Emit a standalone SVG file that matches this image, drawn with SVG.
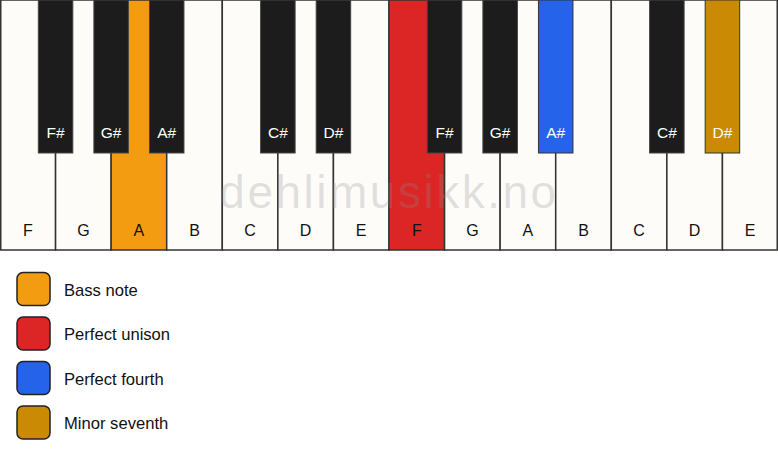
<svg xmlns="http://www.w3.org/2000/svg" width="778" height="461" viewBox="0 0 778 461">
<style>
.w{fill:#fdfcf9;stroke:#333;stroke-width:1.5}
.b{fill:#1c1c1c;stroke:#444;stroke-width:1}
.wl{font-family:"Liberation Sans",Arial,sans-serif;font-size:16px;fill:#111;text-anchor:middle}
.bl{font-family:"Liberation Sans",Arial,sans-serif;font-size:15.5px;fill:#fff;text-anchor:middle}
.lg{stroke:#222;stroke-width:1.5}
.lt{font-family:"Liberation Sans",Arial,sans-serif;font-size:16.6px;fill:#111}
</style>
<rect width="778" height="461" fill="#ffffff"/>
<g id="white-keys">
<g id="w-F1"><rect class="w" x="0.75" y="0" width="54.82" height="250"/><text class="wl" x="27.8" y="236">F</text></g>
<g id="w-G1"><rect class="w" x="55.57" y="0" width="55.57" height="250"/><text class="wl" x="83.4" y="236">G</text></g>
<g id="w-A1"><rect class="w" x="111.14" y="0" width="55.57" height="250" style="fill:#f39c12"/><text class="wl" x="138.9" y="236">A</text></g>
<g id="w-B1"><rect class="w" x="166.71" y="0" width="55.57" height="250"/><text class="wl" x="194.5" y="236">B</text></g>
<g id="w-C1"><rect class="w" x="222.29" y="0" width="55.57" height="250"/><text class="wl" x="250.1" y="236">C</text></g>
<g id="w-D1"><rect class="w" x="277.86" y="0" width="55.57" height="250"/><text class="wl" x="305.6" y="236">D</text></g>
<g id="w-E1"><rect class="w" x="333.43" y="0" width="55.57" height="250"/><text class="wl" x="361.2" y="236">E</text></g>
<g id="w-F2"><rect class="w" x="389" y="0" width="55.57" height="250" style="fill:#dc2626"/><text class="wl" x="416.8" y="236">F</text></g>
<g id="w-G2"><rect class="w" x="444.57" y="0" width="55.57" height="250"/><text class="wl" x="472.4" y="236">G</text></g>
<g id="w-A2"><rect class="w" x="500.14" y="0" width="55.57" height="250"/><text class="wl" x="527.9" y="236">A</text></g>
<g id="w-B2"><rect class="w" x="555.71" y="0" width="55.57" height="250"/><text class="wl" x="583.5" y="236">B</text></g>
<g id="w-C2"><rect class="w" x="611.29" y="0" width="55.57" height="250"/><text class="wl" x="639.1" y="236">C</text></g>
<g id="w-D2"><rect class="w" x="666.86" y="0" width="55.57" height="250"/><text class="wl" x="694.6" y="236">D</text></g>
<g id="w-E2"><rect class="w" x="722.43" y="0" width="54.82" height="250"/><text class="wl" x="750.2" y="236">E</text></g>
</g>
<text x="389" y="208" font-family="'Liberation Sans',Arial,sans-serif" font-size="46" fill="#8a8a8a" fill-opacity="0.25" text-anchor="middle" letter-spacing="2.5">dehlimusikk.no</text>
<g id="black-keys">
<g id="b-Fs1"><rect class="b" x="38.32" y="0" width="34.5" height="153"/><text class="bl" x="55.6" y="138">F#</text></g>
<g id="b-Gs1"><rect class="b" x="93.89" y="0" width="34.5" height="153"/><text class="bl" x="111.1" y="138">G#</text></g>
<g id="b-As1"><rect class="b" x="149.46" y="0" width="34.5" height="153"/><text class="bl" x="166.7" y="138">A#</text></g>
<g id="b-Cs1"><rect class="b" x="260.61" y="0" width="34.5" height="153"/><text class="bl" x="277.9" y="138">C#</text></g>
<g id="b-Ds1"><rect class="b" x="316.18" y="0" width="34.5" height="153"/><text class="bl" x="333.4" y="138">D#</text></g>
<g id="b-Fs2"><rect class="b" x="427.32" y="0" width="34.5" height="153"/><text class="bl" x="444.6" y="138">F#</text></g>
<g id="b-Gs2"><rect class="b" x="482.89" y="0" width="34.5" height="153"/><text class="bl" x="500.1" y="138">G#</text></g>
<g id="b-As2"><rect class="b" x="538.46" y="0" width="34.5" height="153" style="fill:#2563eb;stroke:#333"/><text class="bl" x="555.7" y="138">A#</text></g>
<g id="b-Cs2"><rect class="b" x="649.61" y="0" width="34.5" height="153"/><text class="bl" x="666.9" y="138">C#</text></g>
<g id="b-Ds2"><rect class="b" x="705.18" y="0" width="34.5" height="153" style="fill:#ca8a04;stroke:#333"/><text class="bl" x="722.4" y="138">D#</text></g>
</g>
<g id="legend">
<g id="lg-bass"><rect class="lg" x="17" y="272.5" width="33" height="33" rx="6" fill="#f39c12"/><text class="lt" x="64" y="295.5">Bass note</text></g>
<g id="lg-unison"><rect class="lg" x="17" y="317" width="33" height="33" rx="6" fill="#dc2626"/><text class="lt" x="64" y="340">Perfect unison</text></g>
<g id="lg-fourth"><rect class="lg" x="17" y="361.5" width="33" height="33" rx="6" fill="#2563eb"/><text class="lt" x="64" y="384.5">Perfect fourth</text></g>
<g id="lg-seventh"><rect class="lg" x="17" y="406" width="33" height="33" rx="6" fill="#ca8a04"/><text class="lt" x="64" y="429">Minor seventh</text></g>
</g>
<g id="connectors"/>
</svg>
